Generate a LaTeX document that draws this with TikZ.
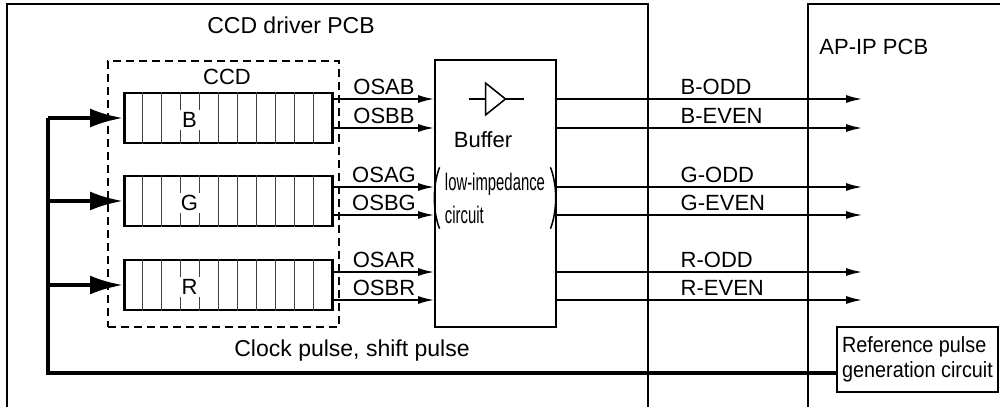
\documentclass[tikz,border=0pt]{standalone}
\usepackage{fontspec}
\setmainfont{Liberation Sans}
\usetikzlibrary{arrows.meta, positioning, calc}
\tikzset{
  pcb/.style={line width=1pt},
  group/.style={
    rectangle, draw, line width=1pt, dash pattern=on 4pt off 2.5pt,
    minimum width=115.5pt, minimum height=133pt
  },
  register/.style={
    rectangle, draw, line width=1pt, inner sep=0pt,
    minimum width=104.5pt, minimum height=25pt
  },
  cell/.style={line width=0.5pt, black!75},
  block/.style={rectangle, draw, line width=1pt},
  lbl/.style={font=\fontsize{11}{13}\selectfont, inner sep=2pt},
  narrow/.style={font=\fontsize{11}{12.5}\selectfont\addfontfeature{FakeStretch=#1}},
  paren/.style={line width=0.75pt},
  sig/.style={line width=0.75pt, -{Latex[length=8pt,width=4pt]}},
  clock/.style={line width=2pt},
  clockarrow/.style={clock, -{Latex[length=16.5pt,width=9.5pt]}},
}

\begin{document}
\begin{tikzpicture}[x=0.5pt, y=-0.5pt]
  \useasboundingbox (0,0) rectangle (1000,407);

  % boards
  \draw[pcb] (7,407) -- (7,4) -- (648,4) -- (648,407);
  \draw[pcb] (808,407) -- (808,4) -- (1000,4);
  \node[lbl, font=\fontsize{11.5}{13}\selectfont] (drvlbl) at (291,25) {CCD driver PCB};
  \node[lbl, anchor=west] (aplbl) at (815,47) {AP-IP PCB};

  % CCD with three registers
  \node[group] (ccd) at (223.5,194) {};
  \node[lbl] (ccdlbl) at (227,77) {CCD};
  \foreach \c/\y in {B/118, G/201, R/285} {
    \node[register] (reg\c) at (228.5,\y) {};
    \draw[line width=0.5pt] ($(reg\c.north west)+(2.5,0)$) -- ($(reg\c.south west)+(2.5,0)$);
    \draw[line width=0.5pt] ($(reg\c.north east)+(-2.5,0)$) -- ($(reg\c.south east)+(-2.5,0)$);
    \foreach \i in {1,...,10}
      \draw[cell] ($(reg\c.north west)+(19*\i,0)$) -- ($(reg\c.south west)+(19*\i,0)$);
    \node[lbl, fill=white, inner xsep=3pt, inner ysep=1pt] at ($(reg\c.west)+(66.5,2)$) {\c};
  }

  % buffer
  \node[block, minimum width=60.5pt, minimum height=133.5pt] (buf) at (495.5,193.5) {};
  \coordinate (amp) at ($(buf.north)+(0,40)$);
  \draw[line width=0.75pt] ($(amp)+(-27,0)$) -- ($(amp)+(-10,0)$)
                           ($(amp)+(10,0)$) -- ($(amp)+(28,0)$);
  \draw[line width=0.75pt] ($(amp)+(-10,-16)$) -- ($(amp)+(10,0)$) -- ($(amp)+(-10,16)$) -- cycle;
  \node[lbl] (buflbl) at (483,140) {Buffer};
  \node[font=\fontsize{12}{16.5}\selectfont\addfontfeature{FakeStretch=0.62}, align=left,
        inner xsep=2.5pt, inner ysep=0pt] (imp) at (495,198) {low-impedance\\circuit};
  \draw[paren] ($(imp.north west)+(0,-5)$) .. controls +(-7,18) and +(-7,-18) .. ($(imp.south west)+(0,5)$);
  \draw[paren] ($(imp.north east)+(0,-5)$) .. controls +(7,18) and +(7,-18) .. ($(imp.south east)+(0,5)$);

  % signals
  \coordinate (apin) at (862,0);
  \foreach \c/\ya/\yb in {B/99/128, G/187/215, R/272/300} {
    \draw[sig] (reg\c.east |- 0,\ya) -- node[lbl, above] {OSA\c} (buf.west |- 0,\ya);
    \draw[sig] (reg\c.east |- 0,\yb) -- node[lbl, above] {OSB\c} (buf.west |- 0,\yb);
    \draw[sig] (buf.east |- 0,\ya) -- node[lbl, pos=0.39, anchor=south west] {\c-ODD} (apin |- 0,\ya);
    \draw[sig] (buf.east |- 0,\yb) -- node[lbl, pos=0.39, anchor=south west] {\c-EVEN} (apin |- 0,\yb);
  }

  % clock
  \node[block, narrow=0.9, align=left, inner xsep=2.5pt, minimum height=32.5pt] (ref) at (917.5,359.5)
    {Reference pulse\\generation circuit};
  \coordinate (clk) at ($(regB.west)+(-75,0)$);
  \draw[clock] ([yshift=-6.75pt]ref.west) -| (clk);
  \foreach \c in {B,G,R}
    \draw[clockarrow] (clk |- reg\c.west) -- (reg\c.west);
  \node[lbl, font=\fontsize{11.5}{13}\selectfont] (clklbl) at (352,351) {Clock pulse, shift pulse};
\end{tikzpicture}
\end{document}
